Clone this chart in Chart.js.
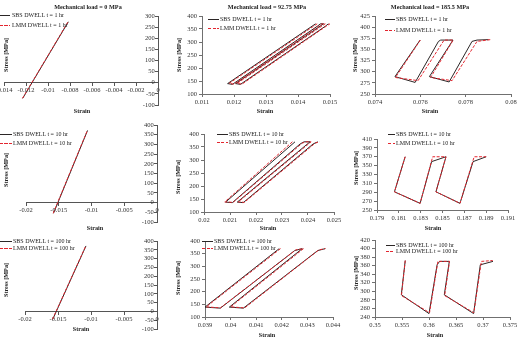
<!DOCTYPE html>
<html>
<head>
<meta charset="utf-8">
<script src="https://cdn.jsdelivr.net/npm/chart.js@4.4.0/dist/chart.umd.min.js"></script>
<style>
  body { margin:0; width:518px; height:348px; position:relative; overflow:hidden; background:#fff; font-family:"Liberation Serif", serif; color:#222; }
  canvas { position:absolute; }
  .t { position:absolute; white-space:nowrap; transform:translate(-50%,-50%); font-size:6.2px; font-weight:bold; }
  .yt { transform:translate(-50%,-50%) rotate(-90deg); }
  .lg { position:absolute; white-space:nowrap; font-size:6px; line-height:6px; transform:translateY(-50%); }
  .sw { position:absolute; height:1px; }
</style>
</head>
<body>
<script>
const loads = ["0 MPa", "92.75 MPa", "185.5 MPa"];
const dwells = ["1 hr", "10 hr", "100 hr"];

// strain axis [min, max, step], row by row
const strainTicks = [
  [-0.014, 0, 0.002], [0.011, 0.015, 0.001], [0.074, 0.08, 0.002],
  [-0.02, 0, 0.005],  [0.02, 0.025, 0.001],  [0.179, 0.191, 0.002],
  [-0.02, 0, 0.005],  [0.039, 0.044, 0.001], [0.35, 0.375, 0.005]
];
// stress axis [min, max, step]
const stressTicks = [
  [-100, 300, 50], [100, 400, 50], [250, 425, 25],
  [-100, 400, 50], [100, 400, 50], [250, 410, 20],
  [-100, 400, 50], [100, 400, 50], [240, 420, 20]
];

// curves as [strain, stress]
const sbs_0_1 = [[-0.0123,-70],[-0.00815,274]];
const lmm_0_1 = [[-0.01232,-70],[-0.00818,274]];
const sbs_0_10 = [[-0.0158,-55],[-0.0106,372]];
const lmm_0_10 = [[-0.01585,-55],[-0.01063,372]];
const sbs_0_100 = [[-0.0158,-45],[-0.01076,372]];
const lmm_0_100 = [[-0.01584,-45],[-0.01079,372]];

const sbs_92_1 = [[0.01455,370],[0.0118,140],[0.01195,137],[0.01462,362],[0.0147,370],[0.0148,370],[0.01205,140],[0.0122,137],[0.01487,362],[0.01495,370]];
const lmm_92_1 = [[0.0146,370],[0.01185,141],[0.012,138],[0.01468,364],[0.01475,370],[0.01485,370],[0.0121,141],[0.01225,138],[0.01492,364],[0.015,370]];
const sbs_92_10 = [[0.0235,370],[0.02083,138],[0.02109,136],[0.0237,362],[0.02385,370],[0.02408,370],[0.02128,138],[0.02151,136],[0.0242,362],[0.02438,370]];
const lmm_92_10 = [[0.0234,370],[0.0208,139],[0.02112,137],[0.02378,365],[0.02392,370],[0.02412,370],[0.02132,139],[0.02155,137],[0.02428,365],[0.02444,370]];
const sbs_92_100 = [[0.0419,370],[0.039,139],[0.0396,135],[0.0425,362],[0.0428,370],[0.03995,139],[0.0405,135],[0.0434,362],[0.0437,370]];
const lmm_92_100 = [[0.04195,370],[0.03905,140],[0.0396,136],[0.04255,365],[0.04285,370],[0.04,140],[0.04055,136],[0.04345,365],[0.0437,370]];

const sbs_185_1 = [[0.07599,371],[0.07488,289],[0.07577,276],[0.0768,368],[0.0769,371],[0.07744,371],[0.0764,289],[0.07727,277],[0.07828,368],[0.0785,371],[0.07901,372]];
const lmm_185_1 = [[0.076,371],[0.0749,287],[0.0759,280],[0.07705,371],[0.07745,371],[0.07645,287],[0.0774,280],[0.0785,368],[0.0791,372]];
const sbs_185_10 = [[0.18158,370],[0.1806,291],[0.18295,265],[0.184,359],[0.18532,370],[0.1844,291],[0.1866,265],[0.1878,359],[0.189,370]];
const lmm_185_10 = [[0.18158,370],[0.1806,291],[0.18295,265],[0.1841,370],[0.18532,370],[0.1844,291],[0.1866,265],[0.1879,370],[0.189,370]];
const sbs_185_100 = [[0.3556,372],[0.35487,292],[0.36,248],[0.3615,362],[0.36196,370],[0.36376,370],[0.36283,292],[0.36826,248],[0.3695,362],[0.37185,370]];
const lmm_185_100 = [[0.3556,372],[0.3549,290],[0.3601,250],[0.36165,370],[0.3638,370],[0.3629,290],[0.3683,250],[0.3697,370],[0.3718,372]];

const sbsCurves = [sbs_0_1, sbs_92_1, sbs_185_1, sbs_0_10, sbs_92_10, sbs_185_10, sbs_0_100, sbs_92_100, sbs_185_100];
const lmmCurves = [lmm_0_1, lmm_92_1, lmm_185_1, lmm_0_10, lmm_92_10, lmm_185_10, lmm_0_100, lmm_92_100, lmm_185_100];

// page layout (pixels): plot areas and label spots
const plotBoxes = [
  {l:4, t:16, r:158, b:105}, {l:202, t:16, r:330, b:94}, {l:375, t:16, r:511, b:94},
  {l:26, t:125, r:157, b:222}, {l:204, t:134, r:334, b:212}, {l:377, t:139, r:508, b:210},
  {l:25, t:241, r:157, b:329}, {l:205, t:241, r:333, b:317}, {l:375, t:240, r:510, b:317}
];
const titleSpots = [[88, 6], [267, 6], [430, 6]];
const strainSpots = [[82,110],[265,110],[430,110],[95,227],[268,227],[433,227],[81,328],[267,334],[435,334]];
const stressSpots = [[5,55],[178,55],[354,55],[5,170],[177,177],[355,168],[5,280],[177,278],[355,273]];
const legendSpots = [[0,10,12,15,25],[208,219,220,19,28],[385,395,396,19,30],[0,12,13,134,143],[217,228,229,134,142],[388,395,396,134,143],[0,12,13,241,248],[202,213,214,241,248],[386,395,396,245,251]];

const SBS_COLOR = '#2b2626';
const LMM_COLOR = '#e3262f';
const AXIS_COLOR = '#707070';
const CROSS_AXIS_COLOR = '#555555';
const tickFont = {family: 'Liberation Serif', size: 6.5};

const fmt = v => String(+v.toFixed(6));
const toXY = arr => arr.map(p => ({x: p[0], y: p[1]}));

function addText(cls, x, y, text) {
  const d = document.createElement('div');
  d.className = cls;
  d.style.left = x + 'px';
  d.style.top = y + 'px';
  d.textContent = text;
  document.body.appendChild(d);
}

function makePanel(i) {
  const col = i % 3, row = Math.floor(i / 3);
  const box = plotBoxes[i];
  const centred = col === 0;   // 0 MPa column: axes cross at the origin
  const yw = centred ? 0 : 24, xh = centred ? 0 : 14;
  const pad = centred ? {left: box.l, right: 5, top: 4, bottom: 5} : {left: 4, right: 8, top: 4, bottom: 3};
  const left = box.l - yw - pad.left, top = box.t - pad.top;
  const w = pad.left + yw + (box.r - box.l) + pad.right;
  const h = pad.top + (box.b - box.t) + xh + pad.bottom;
  const axisColor = centred ? CROSS_AXIS_COLOR : AXIS_COLOR;

  const cv = document.createElement('canvas');
  cv.width = w; cv.height = h;
  cv.style.left = left + 'px'; cv.style.top = top + 'px';
  cv.style.width = w + 'px'; cv.style.height = h + 'px';
  document.body.appendChild(cv);

  const [xmin, xmax, xstep] = strainTicks[i];
  const [ymin, ymax, ystep] = stressTicks[i];

  new Chart(cv, {
    type: 'scatter',
    data: {
      datasets: [
        {label: 'SBS DWELL t = ' + dwells[row], data: toXY(sbsCurves[i]), showLine: true,
         borderColor: SBS_COLOR, borderWidth: 1, pointRadius: 0, order: 2},
        {label: 'LMM DWELL t = ' + dwells[row], data: toXY(lmmCurves[i]), showLine: true,
         borderColor: LMM_COLOR, borderWidth: 1, borderDash: [3, 1.5], pointRadius: 0, order: 1}
      ]
    },
    options: {
      responsive: false, animation: false, devicePixelRatio: 1,
      layout: {padding: pad, autoPadding: false},
      plugins: {legend: {display: false}, tooltip: {enabled: false}},
      scales: {
        x: {
          type: 'linear', min: xmin, max: xmax,
          position: centred ? {y: 0} : 'bottom',
          ticks: {stepSize: xstep, autoSkip: false, maxRotation: 0, minRotation: 0, padding: 1, font: tickFont, color: '#333', callback: fmt},
          grid: {drawOnChartArea: false, drawTicks: true, tickLength: 3, color: axisColor},
          border: {color: axisColor, width: 1},
          afterFit: s => { if (!centred) s.height = xh; s.paddingLeft = 0; s.paddingRight = 0; }
        },
        y: {
          type: 'linear', min: ymin, max: ymax,
          position: centred ? {x: 0} : 'left',
          ticks: {stepSize: ystep, autoSkip: false, padding: 2, font: tickFont, color: '#333',
                  callback: v => centred ? fmt(v) + '  ' : fmt(v)},
          grid: {drawOnChartArea: false, drawTicks: true, tickLength: 3, color: axisColor},
          border: {color: axisColor, width: 1},
          afterFit: s => { if (!centred) s.width = yw; s.paddingTop = 0; s.paddingBottom = 0; }
        }
      }
    }
  });

  // axis titles and legend
  addText('t', strainSpots[i][0], strainSpots[i][1], 'Strain');
  addText('t yt', stressSpots[i][0], stressSpots[i][1], 'Stress [MPa]');
  const [x0, x1, tx, y1, y2] = legendSpots[i];
  const s1 = document.createElement('div');
  s1.className = 'sw';
  s1.style.cssText = `left:${x0}px;top:${y1}px;width:${x1 - x0}px;background:${SBS_COLOR}`;
  document.body.appendChild(s1);
  const s2 = document.createElement('div');
  s2.className = 'sw';
  s2.style.cssText = `left:${x0}px;top:${y2}px;width:${x1 - x0}px;background:repeating-linear-gradient(to right, ${LMM_COLOR} 0 3px, transparent 3px 4.5px)`;
  document.body.appendChild(s2);
  addText('lg', tx, y1, 'SBS DWELL t = ' + dwells[row]);
  addText('lg', tx, y2, 'LMM DWELL t = ' + dwells[row]);
}

for (let i = 0; i < 9; i++) makePanel(i);
titleSpots.forEach((p, c) => addText('t', p[0], p[1], 'Mechanical load = ' + loads[c]));
</script>
</body>
</html>
